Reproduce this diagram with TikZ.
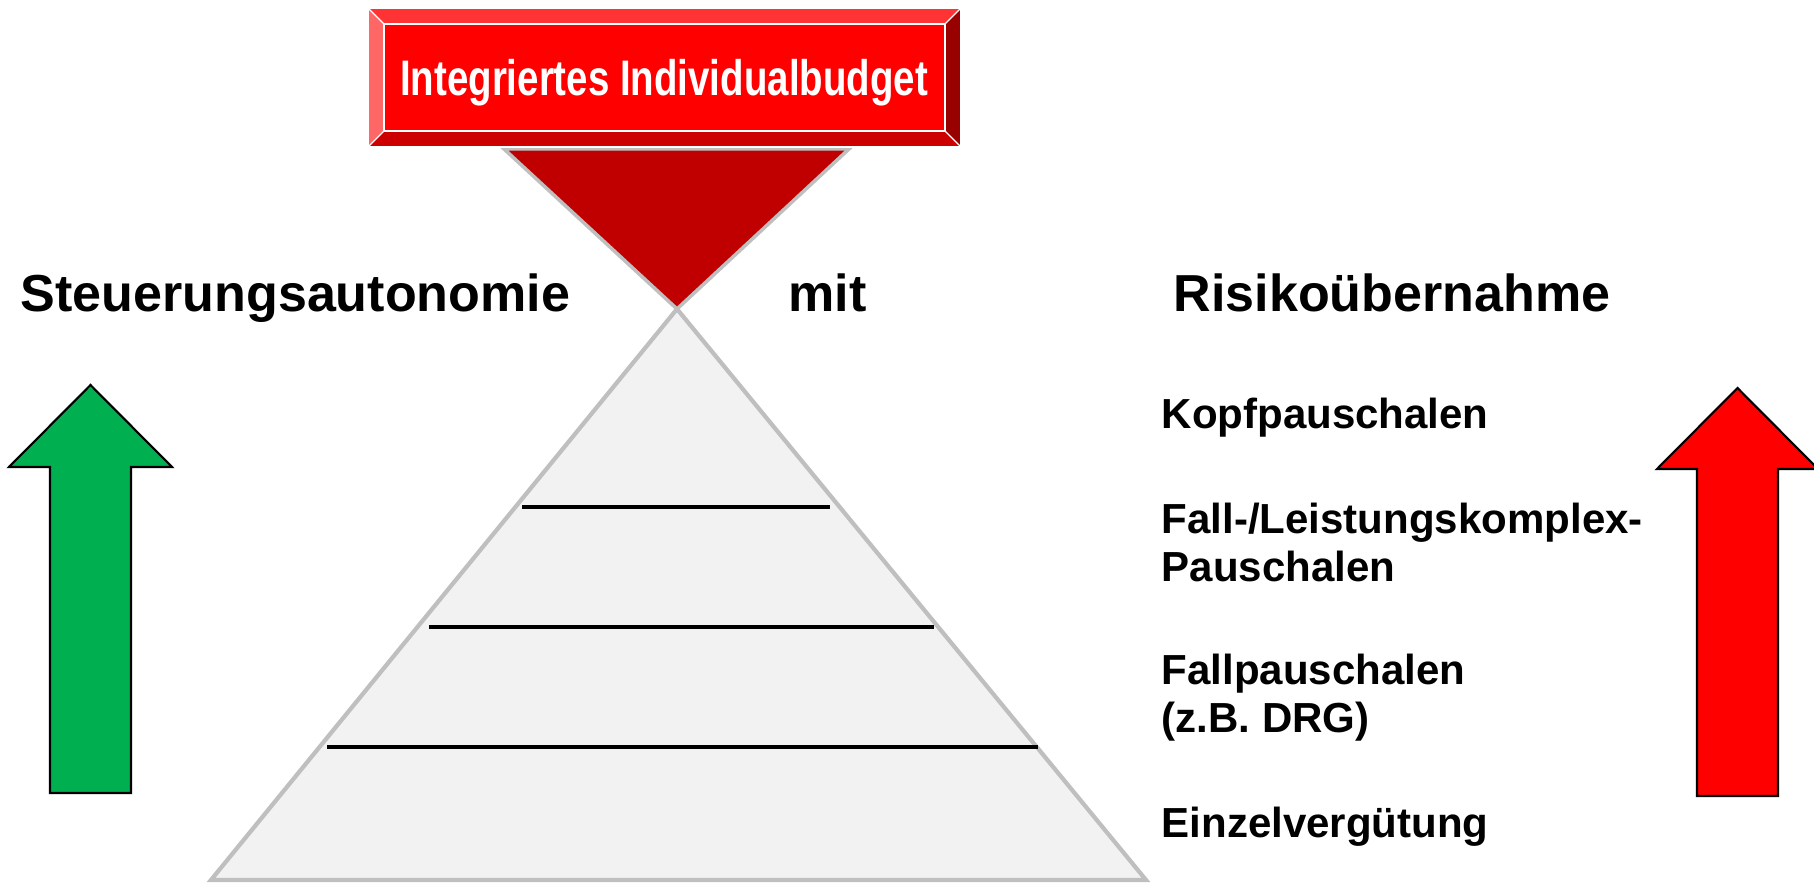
\documentclass[tikz,border=0pt]{standalone}
\usepackage{fontspec}
\setmainfont{Liberation Sans}
\definecolor{facered}{HTML}{FF0000}
\definecolor{bevtop}{HTML}{FF3333}
\definecolor{bevleft}{HTML}{FF6666}
\definecolor{bevright}{HTML}{990000}
\definecolor{bevbottom}{HTML}{CC0000}
\definecolor{funnelred}{HTML}{C00000}
\definecolor{edgegray}{HTML}{BFBFBF}
\definecolor{pyrfill}{HTML}{F2F2F2}
\definecolor{upgreen}{HTML}{00B050}
\begin{document}
\begin{tikzpicture}[x=0.01cm,y=-0.01cm,
  heading/.style={font=\fontsize{14.8pt}{17pt}\selectfont\bfseries, inner sep=0pt, anchor=base west},
  level/.style={font=\fontsize{11.95pt}{14pt}\selectfont\bfseries, inner sep=0pt, anchor=base west},
  titletext/.style={font=\fontsize{14.2pt}{16pt}\selectfont\bfseries, text=white, inner sep=0pt, anchor=base},
  bigarrow/.style={draw=black, line width=0.6pt, line join=miter},
  rung/.style={draw=black, line width=1.3pt},
  bevelline/.style={draw=white, line width=0.35pt}]
\useasboundingbox (0,0) rectangle (1814,883);

% pyramid
\filldraw[fill=pyrfill, draw=edgegray, line width=1.2pt, line join=miter]
  (677,309) -- (1146,880) -- (211,880) -- cycle;
\draw[rung] (522,507) -- (830,507);
\draw[rung] (429,627) -- (934,627);
\draw[rung] (327,747) -- (1038,747);

% funnel below the budget box
\filldraw[fill=funnelred, draw=edgegray, line width=1pt, line join=miter]
  (504,149) -- (849,149) -- (677,309) -- cycle;

% bevelled budget box
\fill[bevtop]    (368,8) -- (961,8) -- (945,24) -- (384,24) -- cycle;
\fill[bevleft]   (368,8) -- (384,24) -- (384,131) -- (368,147) -- cycle;
\fill[bevright]  (961,8) -- (961,147) -- (945,131) -- (945,24) -- cycle;
\fill[bevbottom] (368,147) -- (384,131) -- (945,131) -- (961,147) -- cycle;
\fill[facered]   (384,24) rectangle (945,131);
\draw[bevelline] (368,8) rectangle (961,147);
\draw[bevelline] (384,24) rectangle (945,131);
\draw[bevelline] (368,8) -- (384,24) (961,8) -- (945,24)
                 (368,147) -- (384,131) (961,147) -- (945,131);
\node[titletext] (budget) at (664,96) {\scalebox{0.77}[1]{Integriertes Individualbudget}};

% headings
\node[heading] (autonomie) at (20,312) {Steuerungsautonomie};
\node[heading] (mit) at (788,312) {mit};
\node[heading] (risiko) at (1173,312) {Risikoübernahme};

% payment levels
\node[level] (kopf) at (1161,429) {Kopfpauschalen};
\node[level] (fallleist) at (1161,534) {Fall-/Leistungskomplex-};
\node[level] (fallleist2) at (1161,582) {Pauschalen};
\node[level] (fallp) at (1161,685) {Fallpauschalen};
\node[level] (fallp2) at (1161,733) {(z.B. DRG)};
\node[level] (einzel) at (1161,838) {Einzelvergütung};

% upward arrows
\filldraw[bigarrow, fill=upgreen]
  (90.5,385) -- (172,467) -- (131,467) -- (131,793) -- (50,793) -- (50,467) -- (9,467) -- cycle;
\filldraw[bigarrow, fill=facered]
  (1737.5,388) -- (1818,469) -- (1778,469) -- (1778,796) -- (1697,796) -- (1697,469) -- (1657,469) -- cycle;
\end{tikzpicture}
\end{document}
